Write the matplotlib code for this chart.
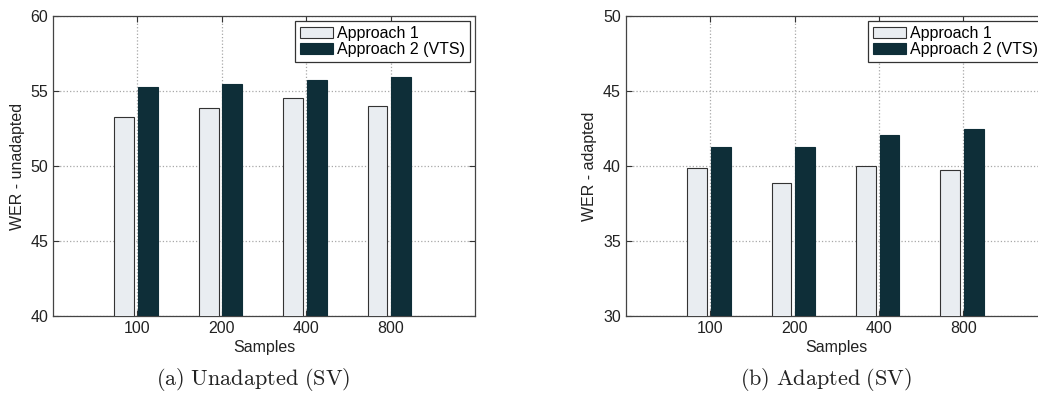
import numpy as np
import matplotlib

matplotlib.use("Agg")
import matplotlib.pyplot as plt

plt.rcParams["font.family"] = ["Liberation Sans", "DejaVu Sans"]
plt.rcParams["mathtext.fontset"] = "cm"

# ---------- data ----------
samples = ["100", "200", "400", "800"]
series_names = ["Approach 1", "Approach 2 (VTS)"]

unadapted_a1 = [53.25, 53.9, 54.55, 54.0]
unadapted_a2 = [55.25, 55.45, 55.75, 55.95]

adapted_a1 = [39.85, 38.85, 40.0, 39.75]
adapted_a2 = [41.3, 41.25, 42.05, 42.5]

light = "#e9edf1"
dark = "#0e2e38"


def draw_panel(ax, a1, a2, ylim, ylabel, caption):
    x = np.arange(1, len(samples) + 1)
    w = 0.235
    ax.bar(x - 0.155, a1, w, color=light, edgecolor="#333333", lw=0.8,
           label=series_names[0], zorder=3)
    ax.bar(x + 0.125, a2, w, color=dark, edgecolor=dark, lw=0.8,
           label=series_names[1], zorder=3)
    ax.set_xlim(0, 5)
    ax.set_ylim(*ylim)
    ax.set_xticks(x)
    ax.set_xticklabels(samples)
    ax.set_yticks(np.arange(ylim[0], ylim[1] + 1, 5))
    ax.tick_params(direction="in", top=True, right=True, labelsize=11.5,
                   length=4, colors="#333333", labelcolor="#222222")
    ax.grid(True, ls=":", color="#a8a8a8", lw=0.9, zorder=0)
    for s in ax.spines.values():
        s.set_color("#444444")
        s.set_linewidth(0.9)
    ax.set_xlabel("Samples", fontsize=11.5, labelpad=3, color="#222222")
    ax.set_ylabel(ylabel, fontsize=11.5, labelpad=4, color="#222222")
    leg = ax.legend(loc="upper right", fontsize=11.5, fancybox=False,
                    framealpha=1, edgecolor="#333333", borderpad=0.3,
                    labelspacing=0.1, handlelength=2.1, handletextpad=0.25,
                    borderaxespad=0.3)
    leg.get_frame().set_linewidth(0.9)
    ax.text(0.474, -0.212, caption, transform=ax.transAxes, ha="center",
            va="center", fontsize=16, color="#222222")


fig = plt.figure(figsize=(10.38, 3.94), dpi=100)
ax1 = fig.add_axes([0.051, 0.198, 0.4066, 0.761])
ax2 = fig.add_axes([0.6028, 0.198, 0.4066, 0.761])

draw_panel(ax1, unadapted_a1, unadapted_a2, (40, 60), "WER - unadapted",
           r"$\mathrm{(a)\ Unadapted\ (SV)}$")
draw_panel(ax2, adapted_a1, adapted_a2, (30, 50), "WER - adapted",
           r"$\mathrm{(b)\ Adapted\ (SV)}$")

fig.savefig("out.png", dpi=100, facecolor="white")
